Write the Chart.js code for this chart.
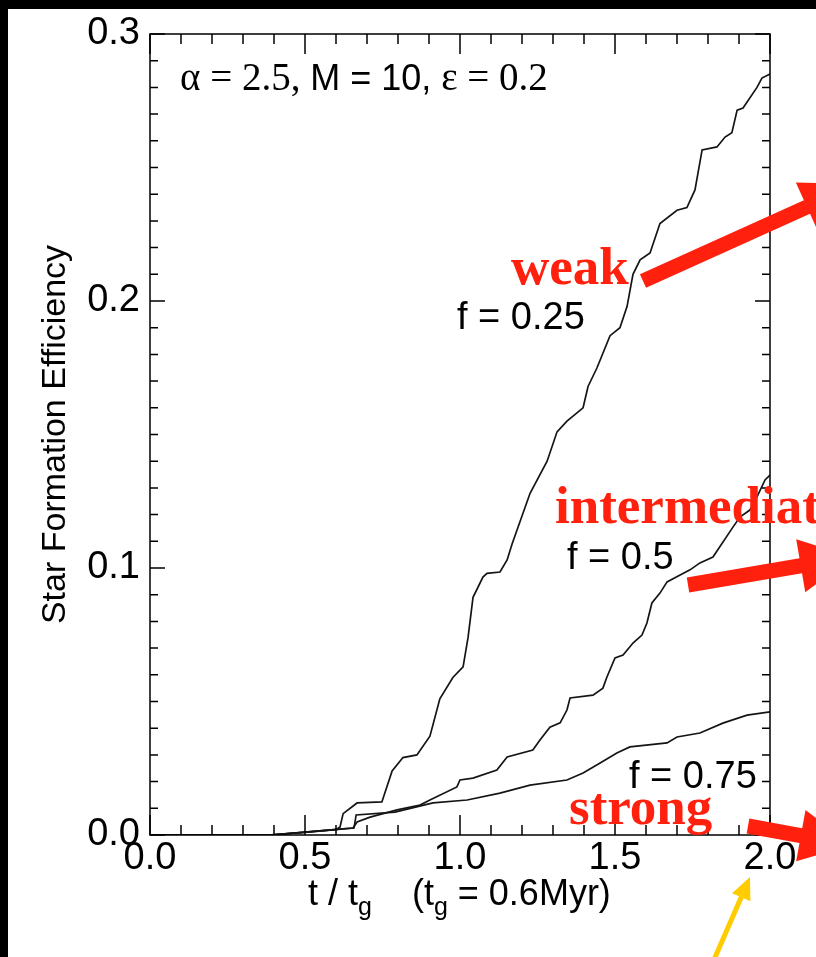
<!DOCTYPE html>
<html><head><meta charset="utf-8">
<script src="https://cdn.jsdelivr.net/npm/chart.js@4.4.0/dist/chart.umd.min.js"></script>
<style>html,body{margin:0;padding:0;background:#000;overflow:hidden}canvas{display:block}</style>
</head><body>
<canvas id="c" width="816" height="957" style="width:816px;height:957px"></canvas>
<script>
// ---- data ----
const t25   = [0, 0.38, 0.5, 0.6, 0.613, 0.623, 0.668, 0.748, 0.781, 0.816, 0.861, 0.903, 0.935, 0.977, 1.01, 1.026, 1.042, 1.074, 1.087, 1.129, 1.152, 1.168, 1.226, 1.281, 1.313, 1.345, 1.397, 1.413, 1.442, 1.484, 1.516, 1.539, 1.558, 1.581, 1.613, 1.645, 1.70, 1.732, 1.758, 1.781, 1.829, 1.855, 1.877, 1.894, 1.913, 1.958, 1.974, 2.0];
const sfe25 = [0, 0, 0.001, 0.002, 0.003, 0.008, 0.012, 0.0124, 0.024, 0.029, 0.030, 0.037, 0.051, 0.059, 0.063, 0.074, 0.089, 0.0966, 0.098, 0.0985, 0.103, 0.109, 0.128, 0.140, 0.151, 0.155, 0.160, 0.168, 0.175, 0.187, 0.190, 0.198, 0.210, 0.2154, 0.218, 0.229, 0.234, 0.235, 0.2416, 0.2566, 0.2577, 0.2614, 0.263, 0.2715, 0.2723, 0.280, 0.2835, 0.285];

const t50   = [0, 0.387, 0.5, 0.613, 0.655, 0.668, 0.710, 0.797, 0.871, 0.903, 0.990, 1.0, 1.042, 1.119, 1.152, 1.235, 1.258, 1.29, 1.323, 1.345, 1.355, 1.429, 1.461, 1.474, 1.5, 1.526, 1.558, 1.587, 1.603, 1.619, 1.645, 1.668, 1.71, 1.742, 1.774, 1.816, 1.881, 1.903, 1.935, 1.958, 1.984, 2.0];
const sfe50 = [0, 0, 0.0011, 0.0022, 0.0026, 0.0049, 0.0067, 0.0094, 0.0112, 0.0131, 0.018, 0.0206, 0.0213, 0.0243, 0.0292, 0.0318, 0.0356, 0.0404, 0.042, 0.0468, 0.0513, 0.0524, 0.055, 0.0592, 0.0663, 0.0674, 0.0719, 0.0749, 0.0794, 0.0869, 0.0906, 0.0948, 0.0974, 0.0993, 0.1019, 0.1041, 0.1154, 0.1191, 0.1217, 0.1266, 0.133, 0.1348];

const t75   = [0, 0.387, 0.5, 0.613, 0.658, 0.665, 0.79, 0.913, 1.023, 1.129, 1.226, 1.345, 1.397, 1.452, 1.506, 1.548, 1.668, 1.70, 1.774, 1.848, 1.926, 2.0];
const sfe75 = [0, 0, 0.0011, 0.0022, 0.0026, 0.0075, 0.0086, 0.012, 0.0131, 0.0157, 0.0187, 0.0206, 0.0232, 0.027, 0.0307, 0.033, 0.0345, 0.0367, 0.0382, 0.0419, 0.0449, 0.0461];

const seriesLabels = ['f = 0.25', 'f = 0.5', 'f = 0.75'];
const xTickStep = 0.5, yTickStep = 0.1;
const xRange = [0, 2], yRange = [0, 0.3];

const SANS = '"Liberation Sans", Arial, sans-serif';
const SERIF = '"Liberation Serif", "Times New Roman", serif';
const RED = 'rgb(255,32,14)';
const YELLOW = 'rgb(255,204,0)';

function pts(xs, ys){ return xs.map((x,i)=>({x, y: ys[i]})); }

function arrow(ctx, x1,y1,x2,y2, w, hl, hw, color){
  const dx=x2-x1, dy=y2-y1, L=Math.hypot(dx,dy), ux=dx/L, uy=dy/L, px=-uy, py=ux;
  const bx=x2-ux*hl, by=y2-uy*hl;
  ctx.save(); ctx.fillStyle=color;
  ctx.beginPath();
  ctx.moveTo(x1+px*w/2, y1+py*w/2);
  ctx.lineTo(bx+px*w/2, by+py*w/2);
  ctx.lineTo(bx+px*hw, by+py*hw);
  ctx.lineTo(x2, y2);
  ctx.lineTo(bx-px*hw, by-py*hw);
  ctx.lineTo(bx-px*w/2, by-py*w/2);
  ctx.lineTo(x1-px*w/2, y1-py*w/2);
  ctx.closePath(); ctx.fill(); ctx.restore();
}

function runs(ctx, x, y, parts){
  for (const p of parts){
    ctx.font = p.font;
    ctx.fillText(p.text, x, y + (p.dy||0));
    x += ctx.measureText(p.text).width;
  }
}

const bgPlugin = {
  id:'bg',
  beforeDraw(chart){
    const ctx=chart.ctx;
    ctx.save();
    ctx.fillStyle='#000'; ctx.fillRect(0,0,chart.width,chart.height);
    ctx.fillStyle='#fff'; ctx.fillRect(8,9,chart.width-8,chart.height-9);
    ctx.restore();
  }
};

const framePlugin = {
  id:'frame',
  afterDatasetsDraw(chart){
    const ctx=chart.ctx, {left,right,top,bottom}=chart.chartArea;
    const xs=chart.scales.x, ys=chart.scales.y;
    ctx.save();
    ctx.strokeStyle='#000'; ctx.lineWidth=1.5;
    ctx.strokeRect(left, top, right-left, bottom-top);
    ctx.beginPath();
    const nx = Math.round((xRange[1]-xRange[0])/0.1);
    for (let i=0;i<=nx;i++){
      const px = xs.getPixelForValue(xRange[0]+i*0.1);
      const len = (i%5===0)?20:10;
      ctx.moveTo(px,bottom); ctx.lineTo(px,bottom-len);
      ctx.moveTo(px,top); ctx.lineTo(px,top+len);
    }
    const ny = Math.round((yRange[1]-yRange[0])/0.01);
    for (let i=0;i<=ny;i++){
      const py = ys.getPixelForValue(yRange[0]+i*0.01);
      const len = (i%10===0)?15:8;
      ctx.moveTo(left,py); ctx.lineTo(left+len,py);
      ctx.moveTo(right,py); ctx.lineTo(right-len,py);
    }
    ctx.stroke();
    ctx.restore();
  },
  afterDraw(chart){
    const ctx=chart.ctx;
    ctx.save();
    ctx.fillStyle='#000'; ctx.textBaseline='alphabetic'; ctx.textAlign='left';
    // parameter label
    runs(ctx, 180, 90, [
      {text:'\u03B1 = 2.5, ', font:'39px '+SERIF},
      {text:'M = 10, ', font:'36px '+SANS},
      {text:'\u03B5 = 0.2', font:'39px '+SERIF}
    ]);
    // curve labels
    ctx.font='38px '+SANS;
    ctx.fillText(seriesLabels[0], 457, 329);
    ctx.fillText(seriesLabels[1], 567, 569);
    ctx.fillText(seriesLabels[2], 629, 788);
    // x axis title
    runs(ctx, 308, 905, [
      {text:'t / t', font:'36px '+SANS},
      {text:'g', font:'25px '+SANS, dy:10},
      {text:'    (t', font:'36px '+SANS},
      {text:'g', font:'25px '+SANS, dy:10},
      {text:' = 0.6Myr)', font:'36px '+SANS}
    ]);
    // red annotations
    ctx.fillStyle=RED;
    ctx.font='bold 53px '+SERIF;
    ctx.fillText('weak', 511, 284);
    ctx.fillText('intermediate', 555, 523);
    ctx.fillText('strong', 569, 824);
    arrow(ctx, 643,281, 858,184, 15, 56, 27, RED);
    arrow(ctx, 688,585, 852,557, 15, 52, 27, RED);
    arrow(ctx, 748,826, 852,845, 15, 52, 26, RED);
    arrow(ctx, 713,962, 750,877, 5, 22, 10, YELLOW);
    ctx.restore();
  }
};

const lineStyle = {borderColor:'#151515', borderWidth:1.7, pointRadius:0, fill:false, tension:0};

new Chart(document.getElementById('c'), {
  type:'line',
  data:{ datasets:[
    Object.assign({label:seriesLabels[0], data:pts(t25,sfe25)}, lineStyle),
    Object.assign({label:seriesLabels[1], data:pts(t50,sfe50)}, lineStyle),
    Object.assign({label:seriesLabels[2], data:pts(t75,sfe75)}, lineStyle)
  ]},
  options:{
    responsive:false, animation:false, devicePixelRatio:1,
    layout:{padding:{left:8, top:34, right:46, bottom:0}},
    plugins:{legend:{display:false}, tooltip:{enabled:false}},
    scales:{
      x:{type:'linear', min:xRange[0], max:xRange[1],
         grid:{display:false, drawTicks:false}, border:{display:false},
         ticks:{stepSize:xTickStep, padding:1, color:'#000', maxRotation:0, autoSkip:false,
                font:{family:SANS, size:38}, callback:v=>Number(v).toFixed(1)},
         afterFit:s=>{ s.height=122; }},
      y:{type:'linear', min:yRange[0], max:yRange[1],
         grid:{display:false, drawTicks:false}, border:{display:false},
         ticks:{stepSize:yTickStep, padding:10, color:'#000',
                font:{family:SANS, size:38}, callback:v=>Number(v).toFixed(1)},
         title:{display:true, text:'Star Formation Efficiency', color:'#000',
                font:{family:SANS, size:34}, padding:{top:27, bottom:0}},
         afterFit:s=>{ s.width=142; }}
    }
  },
  plugins:[bgPlugin, framePlugin]
});
</script>
</body></html>
